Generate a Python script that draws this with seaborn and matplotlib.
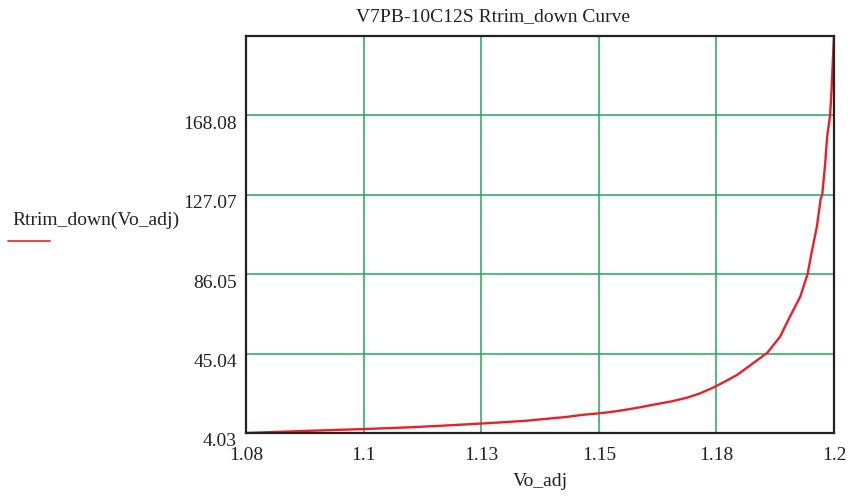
import numpy as np
import pandas as pd
import seaborn as sns
import matplotlib.pyplot as plt
import matplotlib.transforms as mtransforms
from matplotlib.lines import Line2D

# Valeurs
vo_adj = [1.0800, 1.0935, 1.1045, 1.1135, 1.1208, 1.1273, 1.1327, 1.1373,
          1.1416, 1.1453, 1.1484, 1.1516, 1.1539, 1.1563, 1.1584, 1.1604,
          1.1639, 1.1669, 1.1700, 1.1727, 1.1753, 1.1773, 1.1802, 1.1827,
          1.1864, 1.1890, 1.1910, 1.1931, 1.1946, 1.1954, 1.1965, 1.1973,
          1.1976, 1.1982, 1.1986, 1.1992, 1.1995, 1.1998, 1.2000]
rtrim_down = [4.03, 5.22, 6.10, 6.97, 7.90, 8.83, 9.61, 10.38,
              11.42, 12.29, 13.33, 14.10, 14.72, 15.55, 16.43, 17.30,
              19.01, 20.40, 22.26, 24.54, 27.43, 30.01, 33.99, 38.6,
              45.5, 53.8, 64.1, 74.4, 86.05, 96.8, 110.6, 125.3,
              127.07, 143.3, 157.1, 168.08, 181.2, 198.4, 209.09]

x_ticks = [1.08, 1.104, 1.128, 1.152, 1.176, 1.2]
x_tick_labels = ["1.08", "1.1", "1.13", "1.15", "1.18", "1.2"]
y_ticks = [4.03, 45.04, 86.05, 127.07, 168.08, 209.09]
y_tick_labels = ["4.03", "45.04", "86.05", "127.07", "168.08", ""]

title = "V7PB-10C12S Rtrim_down Curve"
x_label = "Vo_adj"
y_label = "Rtrim_down(Vo_adj)"

sns.set_style("white")
plt.rcParams["font.family"] = ["Liberation Serif", "DejaVu Serif"]

df = pd.DataFrame({"Vo_adj": vo_adj, "Rtrim_down": rtrim_down})

fig = plt.figure(figsize=(8.53, 4.97), dpi=100)
ax = fig.add_axes([246 / 853, 64 / 497, 588 / 853, 397 / 497])

sns.lineplot(data=df, x="Vo_adj", y="Rtrim_down", ax=ax, color="#e8202a",
             linewidth=1.7, estimator=None, sort=False, zorder=3)

ax.set_xlim(x_ticks[0], x_ticks[-1])
ax.set_ylim(y_ticks[0], y_ticks[-1])
ax.set_xticks(x_ticks)
ax.set_xticklabels(x_tick_labels)
ax.set_yticks(y_ticks)
ax.set_yticklabels(y_tick_labels)
ax.tick_params(length=0, labelsize=14, colors="#222222")
ax.tick_params(axis="x", pad=10)
ax.tick_params(axis="y", pad=6.5)
ax.grid(True, color="#1fa85a", linewidth=1.1)
for spine in ax.spines.values():
    spine.set_color("#222222")
    spine.set_linewidth(1.6)
    spine.set_zorder(4)

# Décalage des étiquettes de l'axe y (style Mathcad)
offset = mtransforms.ScaledTranslation(0, -5 / 72, fig.dpi_scale_trans)
for lab in ax.get_yticklabels():
    lab.set_transform(lab.get_transform() + offset)

ax.set_xlabel("")
ax.set_ylabel("")
fig.text(540 / 853, 1 - 482 / 497, x_label, ha="center", va="center",
         fontsize=14, color="#222222")
fig.text(493 / 853, 1 - 17 / 497, title, ha="center", va="center",
         fontsize=14, color="#222222")
fig.text(12 / 853, 1 - 220 / 497, y_label, ha="left", va="center",
         fontsize=14, color="#222222")
fig.add_artist(Line2D([8 / 853, 50 / 853], [1 - 241 / 497, 1 - 241 / 497],
                      color="#e8202a", linewidth=1.2,
                      transform=fig.transFigure))

fig.savefig("out.png", dpi=100)
